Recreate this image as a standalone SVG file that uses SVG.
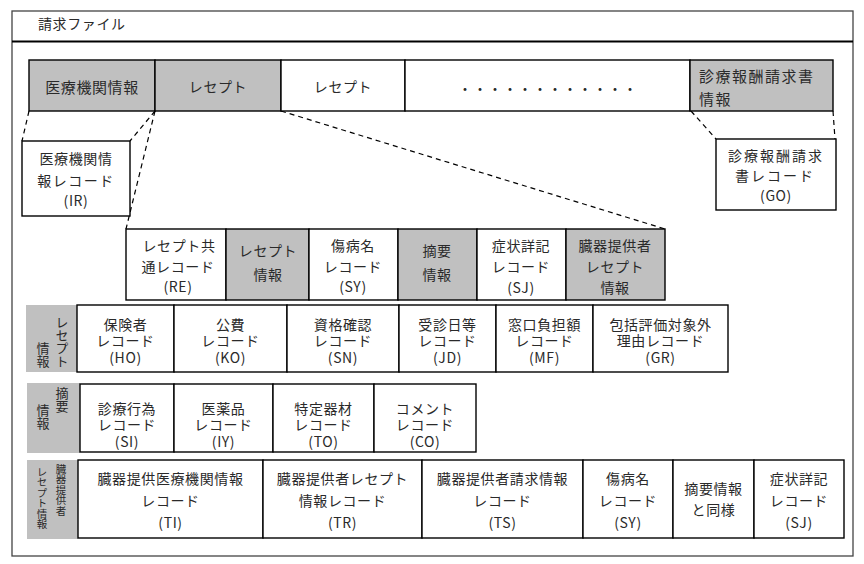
<svg xmlns="http://www.w3.org/2000/svg" width="864" height="564" viewBox="0 0 864 564">
<style>
text{font-family:"Noto Sans CJK JP","Noto Sans",sans-serif;font-size:14px;fill:#2a2a2a;text-anchor:middle;dominant-baseline:central;letter-spacing:0.6px}
.c{stroke:#000;stroke-width:1.4;fill:#fff}
.g{stroke:#000;stroke-width:1.4;fill:#c0c0c0}
.lab{fill:#c0c0c0;stroke:none}
.v{font-size:13px;letter-spacing:0;writing-mode:vertical-rl;text-anchor:start}
.vs{font-size:10.5px;letter-spacing:0;writing-mode:vertical-rl;text-anchor:start}
.st{text-anchor:start}
.dash{stroke:#000;stroke-width:1.2;stroke-dasharray:5 4;fill:none}
</style>
<rect x="0" y="0" width="864" height="564" fill="#fff"/>
<g id="frame">
<rect x="12" y="11" width="841" height="545" fill="none" stroke="#444" stroke-width="1.3"/>
<line x1="12" y1="41.5" x2="853" y2="41.5" stroke="#000" stroke-width="2"/>
<text x="38" y="23" class="st">請求ファイル</text>
</g>
<g id="connectors">
<line class="dash" x1="29" y1="111" x2="22" y2="141"/>
<line class="dash" x1="155" y1="111" x2="130" y2="141"/>
<line class="dash" x1="155" y1="111" x2="126" y2="229"/>
<line class="dash" x1="281" y1="111" x2="665" y2="229"/>
<line class="dash" x1="691" y1="111" x2="716" y2="139"/>
<line class="dash" x1="833" y1="111" x2="835" y2="139"/>
</g>
<g id="top-row">
<g id="iryo"><rect class="g" x="29" y="60" width="126" height="51"/><text x="92" y="86" style="font-size:15px">医療機関情報</text></g>
<g id="receipt1"><rect class="g" x="155" y="60" width="126" height="51"/><text x="218" y="86">レセプト</text></g>
<g id="receipt2"><rect class="c" x="281" y="60" width="124" height="51"/><text x="343" y="86">レセプト</text></g>
<g id="dots"><rect class="c" x="405" y="60" width="285" height="51"/><text x="548" y="88" style="letter-spacing:1px">・・・・・・・・・・・・</text></g>
<g id="seikyu"><rect class="g" x="690" y="60" width="143" height="51"/><text class="st" style="font-size:15px;letter-spacing:1.5px"><tspan x="699" y="75">診療報酬請求書</tspan><tspan x="699" y="98">情報</tspan></text></g>
</g>
<g id="IR"><rect class="c" x="22" y="141" width="108" height="75"/><text><tspan x="76" y="158">医療機関情</tspan><tspan x="76" y="180" style="letter-spacing:1.5px">報レコード</tspan><tspan x="76" y="200">(IR)</tspan></text></g>
<g id="GO"><rect class="c" x="716" y="139" width="120" height="71"/><text style="letter-spacing:2px"><tspan x="776" y="155">診療報酬請求</tspan><tspan x="775" y="175">書レコード</tspan><tspan x="776" y="195" style="letter-spacing:0.6px">(GO)</tspan></text></g>
<g id="tier2">
<g id="RE"><rect class="c" x="126" y="229" width="100" height="71"/><text><tspan x="179" y="245">レセプト共</tspan><tspan x="178" y="266">通レコード</tspan><tspan x="178" y="286">(RE)</tspan></text></g>
<g id="receipt-info"><rect class="g" x="226" y="229" width="83" height="71"/><text><tspan x="268" y="250">レセプト</tspan><tspan x="268" y="274">情報</tspan></text></g>
<g id="SY"><rect class="c" x="309" y="229" width="89" height="71"/><text><tspan x="353" y="245">傷病名</tspan><tspan x="353" y="266">レコード</tspan><tspan x="353" y="286">(SY)</tspan></text></g>
<g id="tekiyo-info"><rect class="g" x="398" y="229" width="79" height="71"/><text><tspan x="437" y="250">摘要</tspan><tspan x="437" y="274">情報</tspan></text></g>
<g id="SJ"><rect class="c" x="477" y="229" width="89" height="71"/><text><tspan x="521" y="245">症状詳記</tspan><tspan x="521" y="266">レコード</tspan><tspan x="521" y="287">(SJ)</tspan></text></g>
<g id="organ-info"><rect class="g" x="566" y="229" width="99" height="71"/><text><tspan x="615" y="245">臓器提供者</tspan><tspan x="615" y="266">レセプト</tspan><tspan x="615" y="287">情報</tspan></text></g>
</g>
<g id="row-receipt">
<g id="lab-receipt"><rect class="lab" x="26" y="305" width="51" height="67"/>
<text class="v" x="62" y="316">レセプト</text>
<text class="v" x="43" y="341.5">情報</text></g>
<g id="HO"><rect class="c" x="77" y="305" width="97" height="67"/><text><tspan x="125.5" y="324">保険者</tspan><tspan x="125.5" y="340">レコード</tspan><tspan x="125.5" y="357">(HO)</tspan></text></g>
<g id="KO"><rect class="c" x="174" y="305" width="113" height="67"/><text><tspan x="230.5" y="324">公費</tspan><tspan x="230.5" y="340">レコード</tspan><tspan x="230.5" y="357">(KO)</tspan></text></g>
<g id="SN"><rect class="c" x="287" y="305" width="112" height="67"/><text><tspan x="343" y="324">資格確認</tspan><tspan x="343" y="340">レコード</tspan><tspan x="343" y="357">(SN)</tspan></text></g>
<g id="JD"><rect class="c" x="399" y="305" width="97" height="67"/><text><tspan x="447.5" y="324">受診日等</tspan><tspan x="447.5" y="340">レコード</tspan><tspan x="447.5" y="357">(JD)</tspan></text></g>
<g id="MF"><rect class="c" x="496" y="305" width="97" height="67"/><text><tspan x="544.5" y="324">窓口負担額</tspan><tspan x="544.5" y="340">レコード</tspan><tspan x="544.5" y="357">(MF)</tspan></text></g>
<g id="GR"><rect class="c" x="593" y="305" width="135" height="67"/><text><tspan x="660.5" y="324">包括評価対象外</tspan><tspan x="660.5" y="340">理由レコード</tspan><tspan x="660.5" y="357">(GR)</tspan></text></g>
</g>
<g id="row-tekiyo">
<g id="lab-tekiyo"><rect class="lab" x="27" y="383" width="53" height="70"/>
<text class="v" x="62" y="386.5">摘要</text>
<text class="v" x="43" y="403.5">情報</text></g>
<g id="SI"><rect class="c" x="80" y="384" width="94" height="68"/><text><tspan x="127" y="408">診療行為</tspan><tspan x="127" y="424">レコード</tspan><tspan x="127" y="441">(SI)</tspan></text></g>
<g id="IY"><rect class="c" x="174" y="384" width="99" height="68"/><text><tspan x="223.5" y="408">医薬品</tspan><tspan x="223.5" y="424">レコード</tspan><tspan x="223.5" y="441">(IY)</tspan></text></g>
<g id="TO"><rect class="c" x="273" y="384" width="101" height="68"/><text><tspan x="323.5" y="408">特定器材</tspan><tspan x="323.5" y="424">レコード</tspan><tspan x="323.5" y="441">(TO)</tspan></text></g>
<g id="CO"><rect class="c" x="374" y="384" width="102" height="68"/><text><tspan x="425" y="408">コメント</tspan><tspan x="425" y="424">レコード</tspan><tspan x="425" y="441">(CO)</tspan></text></g>
</g>
<g id="row-organ">
<g id="lab-organ"><rect class="lab" x="27" y="460" width="51" height="79"/>
<text class="vs" x="61" y="463.75">臓器提供者</text>
<text class="vs" x="42" y="466.75">レセプト情報</text></g>
<g id="TI"><rect class="c" x="78" y="460" width="185" height="78"/><text><tspan x="170.5" y="478">臓器提供医療機関情報</tspan><tspan x="170.5" y="500">レコード</tspan><tspan x="170.5" y="522">(TI)</tspan></text></g>
<g id="TR"><rect class="c" x="263" y="460" width="159" height="78"/><text><tspan x="342.5" y="478">臓器提供者レセプト</tspan><tspan x="342.5" y="500">情報レコード</tspan><tspan x="342.5" y="522">(TR)</tspan></text></g>
<g id="TS"><rect class="c" x="422" y="460" width="161" height="78"/><text><tspan x="502.5" y="478">臓器提供者請求情報</tspan><tspan x="502.5" y="500">レコード</tspan><tspan x="502.5" y="522">(TS)</tspan></text></g>
<g id="SY2"><rect class="c" x="583" y="460" width="90" height="78"/><text><tspan x="628" y="478">傷病名</tspan><tspan x="628" y="500">レコード</tspan><tspan x="628" y="522">(SY)</tspan></text></g>
<g id="same"><rect class="c" x="673" y="460" width="81" height="78"/><text><tspan x="713.5" y="488">摘要情報</tspan><tspan x="713.5" y="509">と同様</tspan></text></g>
<g id="SJ2"><rect class="c" x="754" y="460" width="90" height="78"/><text><tspan x="799" y="478">症状詳記</tspan><tspan x="799" y="500">レコード</tspan><tspan x="799" y="522">(SJ)</tspan></text></g>
</g>
</svg>
